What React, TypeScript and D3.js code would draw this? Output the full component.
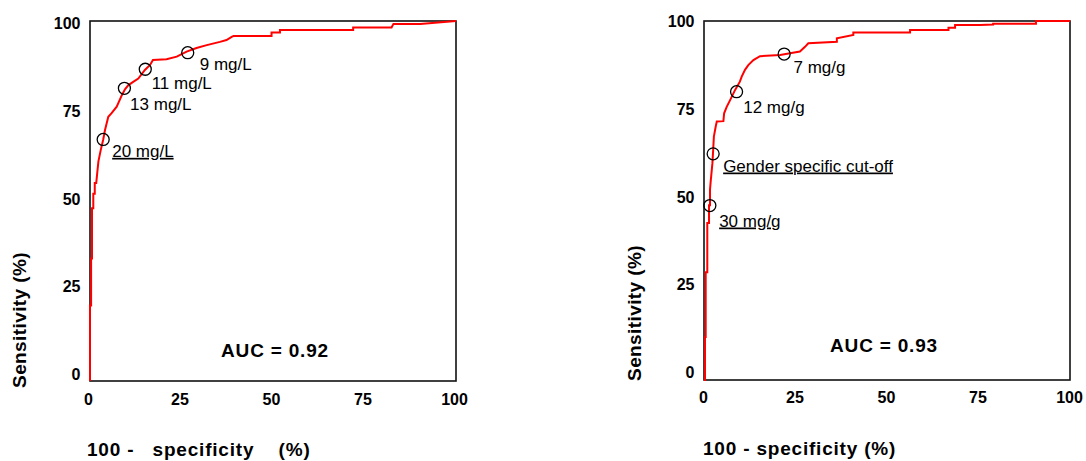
import React from 'react';
import * as d3 from 'd3';

// ---------- data ----------
const X_TICKS = [0, 25, 50, 75, 100];
const Y_TICKS = [0, 25, 50, 75, 100];

// Left ROC (mg/L)
const L_FPR = [0, 0, 0.3, 0.3, 0.55, 0.55, 0.9, 0.9, 1.3, 1.3, 1.7, 2.0, 2.3, 2.9, 3.6, 4.1, 5.0, 5.9, 7.3, 8.7, 9.6, 10.5, 11.8, 13.2, 15.0, 16.4, 17.2, 20.9, 23.7, 26.4, 29.1, 31.9, 35.5, 37.3, 38.7, 39.2, 49.6, 49.6, 51.9, 51.9, 71.9, 71.9, 82.4, 82.9, 90.2, 100];
const L_TPR = [0, 21, 21, 34, 34, 48, 48, 52, 52, 55, 55, 58, 61, 64, 67, 69.7, 73.4, 74.4, 76.2, 79.4, 81.1, 82.2, 83.1, 84, 86.4, 87.8, 89.2, 89.4, 90.1, 91.5, 92.5, 93.3, 94.2, 94.7, 95.6, 95.8, 95.8, 96.8, 96.8, 97.5, 97.5, 98.2, 98.2, 99.2, 99.2, 100];
const L_CUT_FPR = [3.6, 9.4, 15.1, 26.7];
const L_CUT_TPR = [67.1, 81.3, 86.6, 91.2];
const L_CUT_LABELS = ['20 mg/L', '13 mg/L', '11 mg/L', '9 mg/L'];
const L_CUT_UNDERLINED = [true, false, false, false];
const L_AUC = 'AUC = 0.92';
const L_XTITLE = '100 -   specificity    (%)';

// Right ROC (mg/g)
const R_FPR = [0, 0.27, 0.27, 0.46, 0.46, 0.9, 0.9, 1.37, 1.37, 1.64, 1.64, 1.8, 2.3, 2.5, 2.7, 3.2, 3.5, 5.3, 5.5, 6.2, 7.1, 8.5, 9.8, 10.3, 11.2, 12.1, 13.5, 15.3, 20.8, 23.5, 26.2, 27.6, 28.5, 36.3, 36.3, 40.8, 40.8, 56.3, 56.3, 66.8, 66.8, 68.6, 68.6, 75.4, 79.0, 79.0, 90.7, 90.7, 100];
const R_TPR = [0, 0, 12, 12, 30, 30, 43.7, 43.7, 48.7, 48.7, 53, 55, 60.4, 64, 67.8, 70.6, 72, 72.1, 74.3, 76.1, 77.9, 80.8, 83.1, 84.5, 86.4, 87.7, 89.1, 90.2, 90.5, 91, 91.5, 92.8, 93.8, 94.2, 95.2, 96.1, 96.8, 96.8, 97.5, 97.5, 98.1, 98.1, 98.9, 98.9, 99.0, 99.2, 99.2, 100, 100];
const R_CUT_FPR = [1.6, 2.5, 8.9, 21.9];
const R_CUT_TPR = [48.6, 63.0, 80.3, 90.8];
const R_CUT_LABELS = ['30 mg/g', 'Gender specific cut-off', '12 mg/g', '7 mg/g'];
const R_CUT_UNDERLINED = [true, true, false, false];
const R_AUC = 'AUC = 0.93';
const R_XTITLE = '100 - specificity (%)';

const Y_TITLE = 'Sensitivity (%)';

// ---------- layout ----------
const FONT = '"Liberation Sans", Arial, Helvetica, sans-serif';

type Layout = {
  x0: number; x1: number; yb: number; yt: number;
  yLabRange: [number, number]; xLabBase: number; xLabShift: number; yLabX: number;
  labelOffsets: [number, number][];
  aucPos: [number, number];
  xTitle: [number, number];
  yTitle: [number, number];
};

const LEFT_LAYOUT: Layout = {
  x0: 90, x1: 456, yb: 381, yt: 21,
  yLabRange: [380, 29], xLabBase: 405, xLabShift: -1.5, yLabX: 80.5,
  labelOffsets: [[9, 17.4], [5.7, 21.7], [6.4, 19.7], [12, 17.6]],
  aucPos: [275, 357],
  xTitle: [87, 456],
  yTitle: [26, 320],
};

const RIGHT_LAYOUT: Layout = {
  x0: 704, x1: 1070, yb: 380, yt: 21,
  yLabRange: [378, 27], xLabBase: 403, xLabShift: -0.5, yLabX: 694.5,
  labelOffsets: [[9.3, 21], [10, 17.7], [6.6, 21.6], [9.3, 19.3]],
  aucPos: [884, 352],
  xTitle: [703, 455],
  yTitle: [641, 313],
};

type PanelProps = {
  fpr: number[]; tpr: number[];
  cutFpr: number[]; cutTpr: number[]; cutLabels: string[]; cutUnderlined: boolean[];
  auc: string; xTitle: string; layout: Layout;
};

function Panel({ fpr, tpr, cutFpr, cutTpr, cutLabels, cutUnderlined, auc, xTitle, layout }: PanelProps) {
  const x = d3.scaleLinear().domain([0, 100]).range([layout.x0, layout.x1]);
  const y = d3.scaleLinear().domain([0, 100]).range([layout.yb, layout.yt]);
  const yLab = d3.scaleLinear().domain([0, 100]).range(layout.yLabRange);
  const pts: [number, number][] = fpr.map((f, i) => [f, tpr[i]]);
  const line = d3.line<[number, number]>().x(d => x(d[0])).y(d => y(d[1]));

  return (
    <g fontFamily={FONT}>
      <rect x={layout.x0} y={layout.yt} width={layout.x1 - layout.x0} height={layout.yb - layout.yt}
        fill="none" stroke="#111" strokeWidth={1.6} />
      <path d={line(pts) || ''} fill="none" stroke="#ff0000" strokeWidth={2} strokeLinejoin="miter" />
      {cutFpr.map((f, i) => (
        <circle key={'c' + i} cx={x(f)} cy={y(cutTpr[i])} r={6} fill="none" stroke="#000" strokeWidth={1.3} />
      ))}
      {cutLabels.map((lab, i) => (
        <text key={'l' + i} x={x(cutFpr[i]) + layout.labelOffsets[i][0]} y={y(cutTpr[i]) + layout.labelOffsets[i][1]}
          fontSize={17} fill="#000" textDecoration={cutUnderlined[i] ? 'underline' : undefined}>{lab}</text>
      ))}
      {Y_TICKS.map(t => (
        <text key={'y' + t} x={layout.yLabX} y={yLab(t)} textAnchor="end" fontSize={16} fontWeight="bold">{t}</text>
      ))}
      {X_TICKS.map(t => (
        <text key={'x' + t} x={x(t) + layout.xLabShift} y={layout.xLabBase} textAnchor="middle" fontSize={16} fontWeight="bold">{t}</text>
      ))}
      <text x={layout.aucPos[0]} y={layout.aucPos[1]} textAnchor="middle" fontSize={19} fontWeight="bold" letterSpacing={0.8}>{auc}</text>
      <text x={layout.xTitle[0]} y={layout.xTitle[1]} fontSize={19} fontWeight="bold" letterSpacing={0.8}
        style={{ whiteSpace: 'pre' }}>{xTitle}</text>
      <text transform={`translate(${layout.yTitle[0]},${layout.yTitle[1]}) rotate(-90)`} textAnchor="middle"
        fontSize={19} fontWeight="bold" letterSpacing={0.4}>{Y_TITLE}</text>
    </g>
  );
}

export default function App() {
  return (
    <svg width={1086} height={461} style={{ position: 'absolute', left: 0, top: 0, background: '#fff' }}>
      <rect width={1086} height={461} fill="#fff" />
      <Panel fpr={L_FPR} tpr={L_TPR} cutFpr={L_CUT_FPR} cutTpr={L_CUT_TPR} cutLabels={L_CUT_LABELS}
        cutUnderlined={L_CUT_UNDERLINED} auc={L_AUC} xTitle={L_XTITLE} layout={LEFT_LAYOUT} />
      <Panel fpr={R_FPR} tpr={R_TPR} cutFpr={R_CUT_FPR} cutTpr={R_CUT_TPR} cutLabels={R_CUT_LABELS}
        cutUnderlined={R_CUT_UNDERLINED} auc={R_AUC} xTitle={R_XTITLE} layout={RIGHT_LAYOUT} />
    </svg>
  );
}
